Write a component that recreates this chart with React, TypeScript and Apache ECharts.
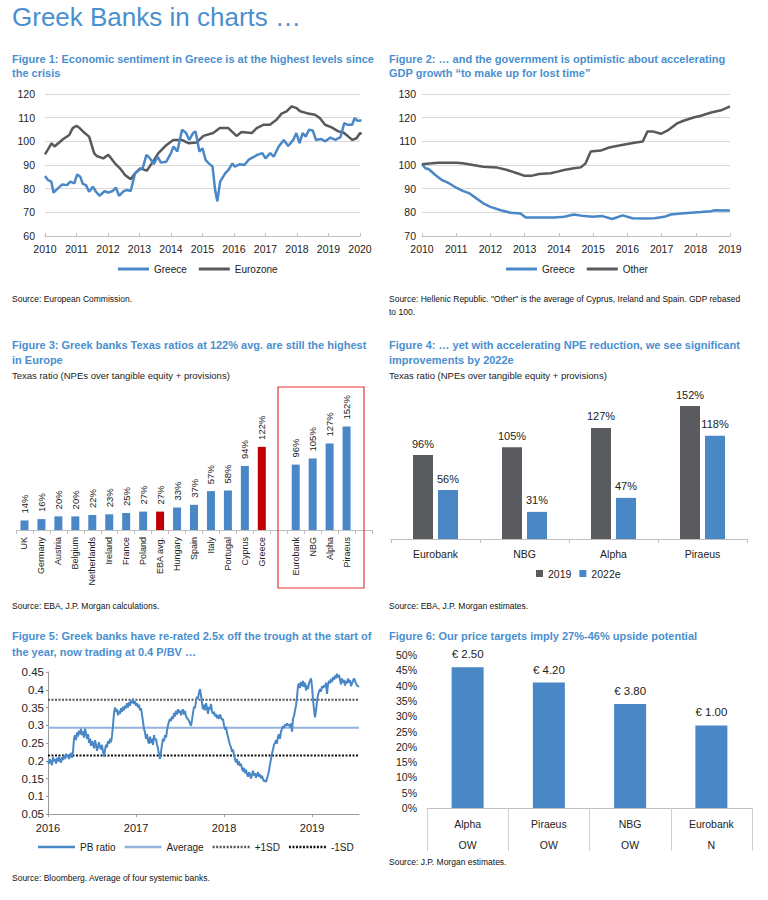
import React, { useEffect, useRef } from 'react';
import * as echarts from 'echarts';

// ---------- DATA ----------
// Figure 1: Economic sentiment (fractional year, index)
const fig1Greece: [number, number][] = [
  [2010.0, 85.3], [2010.1, 83.6], [2010.2, 83.0], [2010.27, 78.3], [2010.4, 80.0], [2010.55, 81.8], [2010.7, 81.5],
  [2010.8, 83.0], [2010.93, 82.2], [2011.02, 86.0], [2011.12, 85.0], [2011.2, 82.0], [2011.3, 81.5], [2011.4, 78.7],
  [2011.52, 80.8], [2011.62, 78.7], [2011.73, 77.0], [2011.9, 79.0], [2012.0, 78.3], [2012.15, 79.0], [2012.25, 80.5],
  [2012.35, 77.0], [2012.5, 79.0], [2012.6, 79.4], [2012.72, 79.0], [2012.86, 86.5], [2013.0, 88.0], [2013.1, 88.6],
  [2013.22, 94.3], [2013.32, 93.0], [2013.45, 90.4], [2013.58, 93.5], [2013.68, 91.0], [2013.85, 91.4], [2014.0, 95.0],
  [2014.08, 97.8], [2014.2, 95.7], [2014.35, 104.9], [2014.48, 103.5], [2014.58, 100.6], [2014.7, 103.5], [2014.78, 104.2],
  [2014.9, 95.7], [2015.0, 97.0], [2015.1, 92.1], [2015.2, 90.7], [2015.32, 89.3], [2015.4, 79.4], [2015.47, 74.7],
  [2015.56, 83.0], [2015.72, 86.5], [2015.83, 88.0], [2015.95, 90.7], [2016.02, 89.3], [2016.18, 90.3], [2016.33, 90.0],
  [2016.48, 92.4], [2016.64, 93.5], [2016.74, 94.3], [2016.9, 95.0], [2017.0, 92.8], [2017.15, 95.0], [2017.26, 93.5],
  [2017.42, 97.8], [2017.58, 100.6], [2017.72, 98.0], [2017.88, 100.6], [2017.98, 103.5], [2018.08, 99.2], [2018.18, 103.5],
  [2018.28, 102.0], [2018.38, 104.9], [2018.5, 104.6], [2018.6, 100.6], [2018.76, 101.0], [2018.9, 100.0], [2019.06, 101.6],
  [2019.22, 100.6], [2019.38, 101.8], [2019.5, 107.7], [2019.6, 107.0], [2019.75, 107.0], [2019.83, 109.8], [2019.92, 108.7],
  [2020.05, 108.8],
];
const fig1Eurozone: [number, number][] = [
  [2010.0, 94.5], [2010.1, 96.7], [2010.21, 99.2], [2010.3, 97.8], [2010.45, 99.5], [2010.58, 101.0], [2010.77, 102.7],
  [2010.88, 105.6], [2011.0, 106.6], [2011.1, 105.6], [2011.26, 103.5], [2011.4, 102.0], [2011.56, 95.0], [2011.64, 93.8],
  [2011.85, 92.8], [2012.01, 94.3], [2012.22, 90.7], [2012.38, 88.6], [2012.54, 85.8], [2012.72, 84.0], [2012.86, 86.5],
  [2013.02, 88.6], [2013.23, 87.6], [2013.39, 90.7], [2013.6, 95.0], [2013.86, 98.5], [2014.07, 100.6], [2014.34, 100.6],
  [2014.55, 99.2], [2014.81, 99.5], [2015.03, 102.3], [2015.34, 103.5], [2015.55, 105.6], [2015.82, 105.6], [2016.08, 102.3],
  [2016.24, 103.9], [2016.56, 103.5], [2016.72, 105.6], [2016.93, 107.0], [2017.14, 107.0], [2017.35, 109.1], [2017.51, 111.7],
  [2017.67, 112.7], [2017.83, 114.8], [2017.99, 114.0], [2018.1, 112.7], [2018.31, 111.9], [2018.57, 111.2], [2018.73, 109.8],
  [2018.89, 107.0], [2019.1, 105.9], [2019.31, 104.2], [2019.47, 103.7], [2019.63, 102.0], [2019.76, 100.6], [2019.89, 101.3],
  [2020.0, 103.5], [2020.05, 103.0],
];

// Figure 2: GDP rebased to 100
const fig2Greece: [number, number][] = [
  [2010.0, 100.3], [2010.1, 98.6], [2010.2, 98.2], [2010.39, 95.8], [2010.59, 93.6], [2010.8, 92.2], [2011.0, 90.4],
  [2011.19, 89.1], [2011.39, 88.0], [2011.59, 85.9], [2011.79, 83.8], [2012.0, 82.3], [2012.3, 80.9], [2012.59, 79.8],
  [2012.88, 79.5], [2013.03, 77.8], [2013.47, 77.8], [2013.86, 77.8], [2014.15, 78.1], [2014.44, 79.1], [2014.74, 78.4],
  [2014.98, 78.1], [2015.27, 78.4], [2015.56, 77.2], [2015.86, 78.7], [2016.15, 77.5], [2016.49, 77.4], [2016.79, 77.5],
  [2017.08, 78.1], [2017.27, 79.1], [2017.57, 79.5], [2017.86, 79.8], [2018.15, 80.1], [2018.45, 80.5], [2018.54, 80.9],
  [2019.0, 80.8],
];
const fig2Other: [number, number][] = [
  [2010.0, 100.3], [2010.29, 100.7], [2010.49, 101.0], [2011.0, 101.0], [2011.19, 100.7], [2011.49, 100.0], [2011.79, 99.3],
  [2012.2, 98.9], [2012.49, 97.9], [2012.78, 96.5], [2012.98, 95.5], [2013.22, 95.5], [2013.42, 96.2], [2013.76, 96.5],
  [2013.96, 97.2], [2014.15, 97.9], [2014.44, 98.6], [2014.64, 99.0], [2014.78, 100.7], [2014.93, 105.7], [2015.22, 106.1],
  [2015.47, 107.4], [2015.76, 108.2], [2015.96, 108.8], [2016.25, 109.5], [2016.45, 109.9], [2016.59, 114.2], [2016.74, 114.2],
  [2016.98, 113.2], [2017.18, 114.6], [2017.47, 117.7], [2017.66, 118.8], [2017.96, 120.2], [2018.15, 120.8], [2018.45, 122.2],
  [2018.74, 123.1], [2019.0, 124.8],
];

// Figure 3: Texas ratios (%)
const fig3Categories = ['UK', 'Germany', 'Austria', 'Belgium', 'Netherlands', 'Ireland', 'France', 'Poland', 'EBA avg.',
  'Hungary', 'Spain', 'Italy', 'Portugal', 'Cyprus', 'Greece', ' ', 'Eurobank', 'NBG', 'Alpha', 'Piraeus', '  '];
const fig3Values: (number | null)[] = [14, 16, 20, 20, 22, 23, 25, 27, 27, 33, 37, 57, 58, 94, 122, null, 96, 105, 127, 152, null];
const fig3Highlighted = ['EBA avg.', 'Greece'];

// Figure 4: Texas ratio 2019 vs 2022e (%)
const fig4Banks = ['Eurobank', 'NBG', 'Alpha', 'Piraeus'];
const fig4Y2019 = [96, 105, 127, 152];
const fig4Y2022e = [56, 31, 47, 118];

// Figure 5: PB ratio, sampled every ~4.15 days from start of 2016
const pbStartYear = 2016;
const pbStepDays = 4.15;
const pbRatio = [
  0.200, 0.192, 0.205, 0.195, 0.188, 0.210, 0.198, 0.205, 0.192, 0.208,
  0.198, 0.212, 0.200, 0.195, 0.210, 0.202, 0.215, 0.205, 0.220, 0.210,
  0.218, 0.205, 0.215, 0.222, 0.208, 0.225,
  0.262, 0.272, 0.258, 0.280, 0.268, 0.285, 0.275, 0.290, 0.272, 0.283, 0.265, 0.290, 0.278, 0.262, 0.275, 0.250,
  0.262, 0.242, 0.255, 0.248, 0.235, 0.258, 0.245, 0.228, 0.240, 0.252, 0.238, 0.232, 0.245, 0.225, 0.212, 0.230,
  0.245, 0.238, 0.255, 0.248, 0.262, 0.252, 0.270, 0.300, 0.335, 0.350, 0.338, 0.345, 0.328, 0.340, 0.332, 0.348,
  0.338, 0.352, 0.342, 0.355, 0.348, 0.362, 0.350, 0.365, 0.355, 0.370, 0.362, 0.375, 0.360, 0.368, 0.355, 0.362,
  0.350, 0.358, 0.342, 0.348, 0.330, 0.310, 0.290, 0.280, 0.262, 0.275, 0.255, 0.248, 0.268, 0.250, 0.262, 0.245,
  0.272, 0.258, 0.262, 0.245, 0.235, 0.218, 0.205, 0.225, 0.245, 0.262, 0.255, 0.272, 0.265, 0.285, 0.300, 0.310,
  0.318, 0.312, 0.325, 0.318, 0.335, 0.325, 0.340, 0.330, 0.345, 0.335, 0.342, 0.328, 0.338, 0.345, 0.330, 0.340,
  0.325, 0.320, 0.318, 0.312, 0.305, 0.298, 0.315, 0.335, 0.352, 0.348, 0.368, 0.380, 0.375, 0.392, 0.402, 0.385,
  0.362, 0.345, 0.358, 0.342, 0.362, 0.350, 0.332, 0.352, 0.345, 0.360, 0.340, 0.332, 0.338, 0.325, 0.332, 0.320,
  0.328, 0.318, 0.330, 0.322, 0.315, 0.318,
  0.300, 0.288, 0.295, 0.278, 0.268, 0.255, 0.245, 0.238, 0.225, 0.232, 0.215, 0.205, 0.195, 0.205, 0.188, 0.198,
  0.185, 0.192, 0.178, 0.170, 0.180, 0.165, 0.175, 0.162, 0.155, 0.168, 0.160, 0.150, 0.162, 0.172, 0.158, 0.165,
  0.152, 0.160, 0.168, 0.155, 0.162, 0.150, 0.158, 0.148, 0.142, 0.145, 0.140, 0.150, 0.160, 0.172, 0.190, 0.205,
  0.220, 0.232, 0.245, 0.250, 0.258, 0.248, 0.268, 0.275, 0.262, 0.282, 0.290, 0.298, 0.292, 0.302, 0.298, 0.305,
  0.300, 0.302, 0.295, 0.305, 0.282, 0.320, 0.325, 0.342, 0.355, 0.380, 0.410, 0.418, 0.405, 0.422, 0.410, 0.425,
  0.408, 0.420, 0.398, 0.412, 0.402, 0.418, 0.425, 0.432, 0.410, 0.372, 0.345, 0.322, 0.340, 0.368, 0.385, 0.395,
  0.402, 0.395, 0.410, 0.405, 0.412, 0.408, 0.420, 0.388, 0.415, 0.425, 0.418, 0.430, 0.422, 0.435, 0.428, 0.440,
  0.432, 0.445, 0.435, 0.442, 0.428, 0.415, 0.432, 0.420, 0.428, 0.412, 0.425, 0.418, 0.432, 0.420, 0.428, 0.410,
  0.418, 0.425, 0.432, 0.425, 0.418, 0.412, 0.410,
  0.408,
];
const pbAverage = 0.293;
const pbPlus1SD = 0.372;
const pbMinus1SD = 0.215;

// Figure 6: upside to price targets
const fig6Banks = ['Alpha', 'Piraeus', 'NBG', 'Eurobank'];
const fig6Upside = [46, 41, 34, 27];
const fig6Targets = ['€ 2.50', '€ 4.20', '€ 3.80', '€ 1.00'];
const fig6Ratings = ['OW', 'OW', 'OW', 'N'];

// ---------- STYLE ----------
const BLUE = '#4a87c6';
const GREY = '#58595c';
const RED = '#c00000';
const TITLE = '#4a8fcf';
const GRID = '#d9d9d9';
const AXIS = '#bfbfbf';
const TXT = '#222222';
const SANS = "'Liberation Sans', Arial, Helvetica, sans-serif";

// legend icons (pure styling)
const LINE_ICON = 'rect';
const DOT_ICON = (() => {
  let p = 'path://';
  for (let x = 0; x <= 35; x += 3.5) p += `M${x},0h2v2.5h-2z`;
  return p;
})();

const txt = (text: string, x: number, y: number, size: number, opts: any = {}) => ({
  type: 'text',
  x,
  y,
  silent: true,
  style: {
    text,
    fontSize: size,
    fontFamily: SANS,
    fontWeight: opts.weight || 'normal',
    fill: opts.fill || TXT,
    verticalAlign: 'middle',
    align: 'left',
  },
});
const ttl = (text: string, x: number, y: number) => txt(text, x, y, 11, { weight: 'bold', fill: TITLE });
const src = (text: string, x: number, y: number) => txt(text, x, y, 8.5, { fill: '#111' });

const axLabel = (size = 11, extra: any = {}) => ({ fontFamily: SANS, fontSize: size, color: TXT, ...extra });
const legText = (size = 10) => ({ fontFamily: SANS, fontSize: size, color: TXT });

function buildOption(): any {
  const pbData = pbRatio.map((v, i) => [pbStartYear + (i * pbStepDays) / 365.25, v]);
  const pbEnd = pbData[pbData.length - 1][0] as number;
  const intLabel = (v: number) => (Math.abs(v - Math.round(v)) < 1e-6 ? String(Math.round(v)) : '');

  return {
    animation: false,
    backgroundColor: '#ffffff',
    textStyle: { fontFamily: SANS },
    grid: [
      { left: 45, top: 94, width: 315, height: 142 },
      { left: 422, top: 94, width: 308, height: 142 },
      { left: 16, top: 421, width: 356, height: 109 },
      { left: 391, top: 399, width: 356, height: 140 },
      { left: 48, top: 672, width: 311, height: 142 },
      { left: 427, top: 655, width: 325, height: 153 },
    ],
    xAxis: [
      {
        gridIndex: 0, type: 'value', min: 2010, max: 2020, interval: 1,
        axisLine: { lineStyle: { color: AXIS } }, axisTick: { show: true, inside: true, length: 3, lineStyle: { color: AXIS } },
        splitLine: { show: false }, axisLabel: axLabel(10.5, { margin: 7, formatter: intLabel }),
      },
      {
        gridIndex: 1, type: 'value', min: 2010, max: 2019, interval: 1,
        axisLine: { lineStyle: { color: AXIS } }, axisTick: { show: true, inside: true, length: 3, lineStyle: { color: AXIS } },
        splitLine: { show: false }, axisLabel: axLabel(10.5, { margin: 7, formatter: intLabel }),
      },
      {
        gridIndex: 2, type: 'category', data: fig3Categories, boundaryGap: true,
        axisLine: { lineStyle: { color: AXIS } }, axisTick: { show: true, length: 4, lineStyle: { color: AXIS } },
        axisLabel: axLabel(9, { rotate: 90, interval: 0, margin: 7 }),
      },
      {
        gridIndex: 3, type: 'category', data: fig4Banks,
        axisLine: { lineStyle: { color: AXIS } }, axisTick: { show: true, length: 4, lineStyle: { color: AXIS } },
        axisLabel: axLabel(10.5, { margin: 9 }),
      },
      {
        gridIndex: 4, type: 'value', min: 2016, max: pbEnd, interval: 1,
        axisLine: { lineStyle: { color: '#9a9a9a' } }, axisTick: { show: true, length: 3, lineStyle: { color: '#9a9a9a' } },
        splitLine: { show: false }, axisLabel: axLabel(11, { margin: 8, formatter: intLabel, showMaxLabel: false }),
      },
      {
        gridIndex: 5, type: 'category', data: fig6Banks,
        axisLine: { lineStyle: { color: AXIS } }, axisTick: { show: true, length: 43, lineStyle: { color: '#d0d0d0' } },
        axisLabel: axLabel(10.5, {
          margin: 5, lineHeight: 21,
          formatter: (v: string, i: number) => `${v}\n${fig6Ratings[i]}`,
        }),
      },
    ],
    yAxis: [
      {
        gridIndex: 0, type: 'value', min: 60, max: 120, interval: 10,
        axisLine: { show: false }, axisTick: { show: false },
        splitLine: { lineStyle: { color: GRID } }, axisLabel: axLabel(10.5, { margin: 10 }),
      },
      {
        gridIndex: 1, type: 'value', min: 70, max: 130, interval: 10,
        axisLine: { show: false }, axisTick: { show: false },
        splitLine: { lineStyle: { color: GRID } }, axisLabel: axLabel(10.5, { margin: 6 }),
      },
      { gridIndex: 2, type: 'value', min: 0, max: 160, show: false },
      { gridIndex: 3, type: 'value', min: 0, max: 160, show: false },
      {
        gridIndex: 4, type: 'value', min: 0.05, max: 0.45, interval: 0.05,
        axisLine: { show: true, lineStyle: { color: '#9a9a9a' } }, axisTick: { show: true, length: 2, lineStyle: { color: '#9a9a9a' } },
        splitLine: { show: false }, axisLabel: axLabel(11.5, { margin: 4 }),
      },
      {
        gridIndex: 5, type: 'value', min: 0, max: 50, interval: 5,
        axisLine: { show: false }, axisTick: { show: false }, splitLine: { show: false },
        axisLabel: axLabel(10.5, { margin: 10, formatter: '{value}%' }),
      },
    ],
    legend: [
      {
        data: [{ name: 'Greece', icon: LINE_ICON }, { name: 'Eurozone', icon: LINE_ICON }],
        left: 118, top: 264, padding: 0, selectedMode: false,
        itemWidth: 31, itemHeight: 3, itemGap: 12, textStyle: legText(10),
      },
      {
        data: [{ name: 'Greece', icon: LINE_ICON }, { name: 'Other', icon: LINE_ICON }],
        left: 506, top: 264, padding: 0, selectedMode: false,
        itemWidth: 31, itemHeight: 3, itemGap: 12, textStyle: legText(10),
      },
      {
        data: ['2019', '2022e'], left: 536, top: 568, padding: 0, selectedMode: false, icon: 'rect',
        itemWidth: 7, itemHeight: 7, itemGap: 8, textStyle: legText(10.5),
      },
      {
        data: [
          { name: 'PB ratio', icon: LINE_ICON }, { name: 'Average', icon: LINE_ICON },
          { name: '+1SD', icon: DOT_ICON }, { name: '-1SD', icon: DOT_ICON },
        ],
        left: 38, top: 842, padding: 0, selectedMode: false,
        itemWidth: 37, itemHeight: 2.5, itemGap: 9, textStyle: legText(10),
      },
    ],
    series: [
      {
        name: 'Greece', type: 'line', xAxisIndex: 0, yAxisIndex: 0, data: fig1Greece, symbol: 'none',
        lineStyle: { color: BLUE, width: 2.5 }, itemStyle: { color: BLUE }, z: 3,
      },
      {
        name: 'Eurozone', type: 'line', xAxisIndex: 0, yAxisIndex: 0, data: fig1Eurozone, symbol: 'none',
        lineStyle: { color: GREY, width: 2.5 }, itemStyle: { color: GREY }, z: 2,
      },
      {
        name: 'Greece', type: 'line', xAxisIndex: 1, yAxisIndex: 1, data: fig2Greece, symbol: 'none',
        lineStyle: { color: BLUE, width: 2.5 }, itemStyle: { color: BLUE },
      },
      {
        name: 'Other', type: 'line', xAxisIndex: 1, yAxisIndex: 1, data: fig2Other, symbol: 'none',
        lineStyle: { color: GREY, width: 2.5 }, itemStyle: { color: GREY },
      },
      {
        name: 'Texas ratio', type: 'bar', xAxisIndex: 2, yAxisIndex: 2, barWidth: 8,
        data: fig3Values.map((v, i) =>
          v === null ? '-' : { value: v, itemStyle: { color: fig3Highlighted.includes(fig3Categories[i]) ? RED : BLUE } }
        ),
        label: {
          show: true, position: 'top', rotate: 90, align: 'left', verticalAlign: 'middle', distance: 7,
          formatter: '{c}%', fontFamily: SANS, fontSize: 9.5, color: TXT,
        },
      },
      {
        name: '2019', type: 'bar', xAxisIndex: 3, yAxisIndex: 3, data: fig4Y2019, barWidth: 20, barGap: '25%',
        itemStyle: { color: '#5a5b5e' },
        label: { show: true, position: 'top', distance: 6, formatter: '{c}%', fontFamily: SANS, fontSize: 11, color: TXT },
      },
      {
        name: '2022e', type: 'bar', xAxisIndex: 3, yAxisIndex: 3, data: fig4Y2022e, barWidth: 20, barGap: '25%',
        itemStyle: { color: BLUE },
        label: { show: true, position: 'top', distance: 6, formatter: '{c}%', fontFamily: SANS, fontSize: 11, color: TXT },
      },
      {
        name: 'PB ratio', type: 'line', xAxisIndex: 4, yAxisIndex: 4, data: pbData, symbol: 'none',
        lineStyle: { color: BLUE, width: 2 }, itemStyle: { color: BLUE }, z: 4,
      },
      {
        name: 'Average', type: 'line', xAxisIndex: 4, yAxisIndex: 4, data: [[2016, pbAverage], [pbEnd, pbAverage]], symbol: 'none',
        lineStyle: { color: '#93b3dc', width: 2 }, itemStyle: { color: '#93b3dc' }, z: 3,
      },
      {
        name: '+1SD', type: 'line', xAxisIndex: 4, yAxisIndex: 4, data: [[2016, pbPlus1SD], [pbEnd, pbPlus1SD]], symbol: 'none',
        lineStyle: { color: '#555555', width: 2, type: [2, 1.5] }, itemStyle: { color: '#555555' }, z: 3,
      },
      {
        name: '-1SD', type: 'line', xAxisIndex: 4, yAxisIndex: 4, data: [[2016, pbMinus1SD], [pbEnd, pbMinus1SD]], symbol: 'none',
        lineStyle: { color: '#111111', width: 2, type: [2, 1.5] }, itemStyle: { color: '#111111' }, z: 3,
      },
      {
        name: 'Upside', type: 'bar', xAxisIndex: 5, yAxisIndex: 5, data: fig6Upside, barWidth: 32,
        itemStyle: { color: BLUE },
        label: {
          show: true, position: 'top', distance: 7, fontFamily: SANS, fontSize: 11.5, color: TXT,
          formatter: (p: any) => fig6Targets[p.dataIndex],
        },
      },
    ],
    graphic: [
      txt('Greek Banks in charts …', 12, 17, 26, { fill: TITLE }),
      ttl('Figure 1: Economic sentiment in Greece is at the highest levels since', 12, 59),
      ttl('the crisis', 12, 73),
      src('Source: European Commission.', 12, 299),
      ttl('Figure 2: … and the government is optimistic about accelerating', 389, 59),
      ttl('GDP growth “to make up for lost time”', 389, 73),
      src('Source: Hellenic Republic. "Other" is the average of Cyprus, Ireland and Spain. GDP rebased', 389, 299),
      src('to 100.', 389, 312),
      ttl('Figure 3: Greek banks Texas ratios at 122% avg. are still the highest', 12, 345),
      ttl('in Europe', 12, 360),
      txt('Texas ratio (NPEs over tangible equity + provisions)', 12, 375, 9.5),
      src('Source: EBA, J.P. Morgan calculations.', 12, 606),
      ttl('Figure 4: … yet with accelerating NPE reduction, we see significant', 389, 345),
      ttl('improvements by 2022e', 389, 360),
      txt('Texas ratio (NPEs over tangible equity + provisions)', 389, 375, 9.5),
      src('Source: EBA, J.P. Morgan estimates.', 389, 606),
      ttl('Figure 5: Greek banks have re-rated 2.5x off the trough at the start of', 12, 636),
      ttl('the year, now trading at 0.4 P/BV …', 12, 652),
      src('Source: Bloomberg. Average of four systemic banks.', 12, 878),
      ttl('Figure 6: Our price targets imply 27%-46% upside potential', 389, 636),
      src('Source: J.P. Morgan estimates.', 389, 862),
      {
        type: 'rect', silent: true, z: 10,
        shape: { x: 278, y: 387, width: 86, height: 201 },
        style: { fill: 'none', stroke: '#e8322f', lineWidth: 1.2 },
      },
    ],
  };
}

export default function App() {
  const ref = useRef<HTMLDivElement>(null);
  useEffect(() => {
    document.body.style.margin = '0';
    if (!ref.current) return;
    const chart = echarts.init(ref.current, null, { renderer: 'svg', width: 768, height: 900 });
    chart.setOption(buildOption());
    return () => chart.dispose();
  }, []);
  return <div ref={ref} style={{ width: 768, height: 900 }} />;
}
